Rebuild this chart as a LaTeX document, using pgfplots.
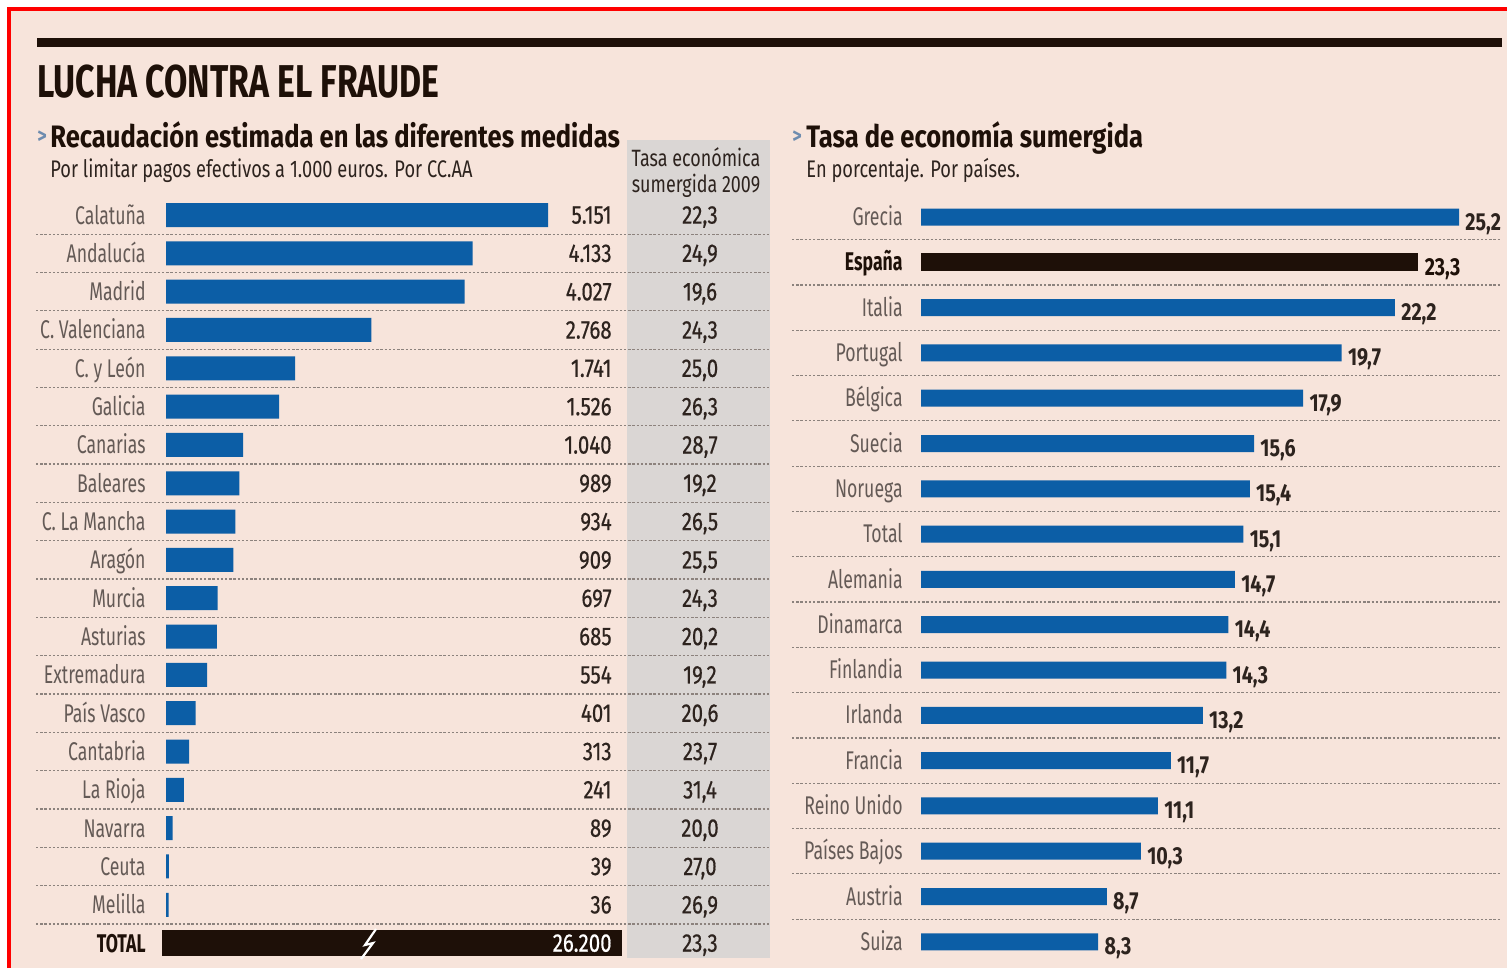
\documentclass[border=0pt]{standalone}
\usepackage{pgfplots}
\pgfplotsset{compat=1.18}
\usepackage{pgfplotstable}
\usepackage{fontspec}
\setmainfont{Fira Sans}[FakeStretch=0.70]
\newfontfamily\titleface{Fira Sans}[FakeStretch=0.735]
\newfontfamily\subface{Fira Sans}[FakeStretch=0.825]
\newfontfamily\smallface{Fira Sans}[FakeStretch=0.76]
\newfontfamily\labface{Fira Sans}[FakeStretch=0.69]
\newfontfamily\valface{Fira Sans}[FakeStretch=0.80, FakeBold=0.5]
\newfontfamily\rvalface{Fira Sans}[FakeStretch=0.80]
\definecolor{bg}{RGB}{247,228,219}
\definecolor{colgrey}{RGB}{218,214,212}
\definecolor{barblue}{RGB}{12,94,166}
\definecolor{ink}{RGB}{30,16,8}
\definecolor{lab}{RGB}{100,90,86}
\definecolor{val}{RGB}{45,35,30}
\definecolor{dots}{RGB}{140,130,125}
\definecolor{arrow}{RGB}{110,140,175}
\newcommand\labfont{\labface\fontsize{12.8}{14}\selectfont}
\newcommand\valfont{\valface\fontsize{12.8}{14}\selectfont}
\newcommand\rvalfont{\rvalface\bfseries\fontsize{12.3}{14}\selectfont}

\pgfplotstableread{
idx val lab
0 5151 5.151
1 4133 4.133
2 4027 4.027
3 2768 2.768
4 1741 1.741
5 1526 1.526
6 1040 1.040
7 989 989
8 934 934
9 909 909
10 697 697
11 685 685
12 554 554
13 401 401
14 313 313
15 241 241
16 89 89
17 39 39
18 36 36
}\lefttab

\pgfplotstableread{
idx tasa
0 22,3
1 24,9
2 19,6
3 24,3
4 25,0
5 26,3
6 28,7
7 19,2
8 26,5
9 25,5
10 24,3
11 20,2
12 19,2
13 20,6
14 23,7
15 31,4
16 20,0
17 27,0
18 26,9
19 23,3
}\tasatab

\pgfplotstableread{
idx val lab
19 26200 26.200
}\totaltab

\pgfplotstableread{
idx val lab
0 25.2 25,2
2 22.2 22,2
3 19.7 19,7
4 17.9 17,9
5 15.6 15,6
6 15.4 15,4
7 15.1 15,1
8 14.7 14,7
9 14.4 14,4
10 14.3 14,3
11 13.2 13,2
12 11.7 11,7
13 11.1 11,1
14 10.3 10,3
15 8.7 8,7
16 8.3 8,3
}\righttab

\pgfplotstableread{
idx val lab
1 23.3 23,3
}\spaintab

\begin{document}
\begin{tikzpicture}
\path[use as bounding box] (0,0) rectangle (753.5pt,-484pt);
\begin{scope}[x=0.5pt,y=-0.5pt]
\fill[white] (0,0) rectangle (1507,968);
\fill[bg] (9,9) rectangle (1507,968);
\draw[red, line width=2pt] (9,968) -- (9,9) -- (1507,9);
\fill[ink] (37,38) rectangle (1502,47);
\fill[colgrey] (627,140) rectangle (770,958);
\foreach \i in {0,...,18} {
  \draw[dots, line width=0.6pt, dash pattern=on 1.2pt off 0.9pt] (36,{215+38.32*\i+19.16}) -- (770,{215+38.32*\i+19.16});
}
\foreach \i in {0,...,15} {
  \draw[dots, line width=0.6pt, dash pattern=on 1.2pt off 0.9pt] (792,{217+45.3*\i+22.65}) -- (1500,{217+45.3*\i+22.65});
}
\node[anchor=base west, inner sep=0pt, text=ink, font=\titleface\bfseries\fontsize{23}{26}\selectfont] at (37,98) {LUCHA CONTRA EL FRAUDE};
\node[anchor=base west, inner sep=0pt, text=arrow, font=\subface\bfseries\fontsize{11}{13}\selectfont] at (37,144) {>};
\node[anchor=base west, inner sep=0pt, text=ink, font=\subface\bfseries\fontsize{15.5}{18}\selectfont] at (50,148) {Recaudación estimada en las diferentes medidas};
\node[anchor=base west, inner sep=0pt, text=val, font=\smallface\fontsize{12}{14}\selectfont] at (50,177) {Por limitar pagos efectivos a 1.000 euros. Por CC.AA};
\node[anchor=base west, inner sep=0pt, text=arrow, font=\subface\bfseries\fontsize{11}{13}\selectfont] at (792,144) {>};
\node[anchor=base west, inner sep=0pt, text=ink, font=\subface\bfseries\fontsize{15.5}{18}\selectfont] at (806,148) {Tasa de economía sumergida};
\node[anchor=base west, inner sep=0pt, text=val, font=\smallface\fontsize{12}{14}\selectfont] at (806,177) {En porcentaje. Por países.};
\node[anchor=base, inner sep=0pt, text=val, font=\smallface\fontsize{11.8}{13}\selectfont] at (696,167) {Tasa económica};
\node[anchor=base, inner sep=0pt, text=val, font=\smallface\fontsize{11.8}{13}\selectfont] at (696,192) {sumergida 2009};
\end{scope}

% left panel: bars per region
\begin{axis}[
  at={(83pt,-97.92pt)}, anchor=north west,
  scale only axis, width=302pt, height=383.2pt,
  xmin=0, xmax=8144, ymin=-0.5, ymax=19.5, y dir=reverse,
  axis line style={draw=none}, major tick length=0pt,
  xtick=\empty, ytick={0,...,19},
  yticklabels={Calatuña, Andalucía, Madrid, C. Valenciana, C. y León, Galicia, Canarias, Baleares, C. La Mancha, Aragón, Murcia, Asturias, Extremadura, País Vasco, Cantabria, La Rioja, Navarra, Ceuta, Melilla, {\bfseries\color{ink}TOTAL}},
  yticklabel style={anchor=base east, inner sep=0pt, xshift=-10pt, yshift=-4.5pt, font=\labfont, text=lab},
  clip=false,
]
\addplot[xbar, bar width=12pt, bar shift=0pt, fill=barblue, draw=none] table[x=val, y=idx] {\lefttab};
\addplot[draw=none, mark=none, nodes near coords, point meta=explicit symbolic,
  nodes near coords style={anchor=base east, inner sep=0pt, yshift=-4.3pt, font=\valfont, text=val}]
  table[x expr=6014, y=idx, meta=lab] {\lefttab};
\addplot[draw=none, mark=none, nodes near coords, point meta=explicit symbolic,
  nodes near coords style={anchor=base, inner sep=0pt, yshift=-4.3pt, font=\valfont, text=val}]
  table[x expr=7200, y=idx, meta=tasa] {\tasatab};
\end{axis}

% left panel: total bar (broken scale)
\begin{axis}[
  at={(81pt,-97.92pt)}, anchor=north west,
  scale only axis, width=230pt, height=383.2pt,
  xmin=0, xmax=26200, ymin=-0.5, ymax=19.5, y dir=reverse,
  hide axis, clip=false,
]
\addplot[xbar, bar width=13pt, bar shift=0pt, fill=ink, draw=none,
  nodes near coords, point meta=explicit symbolic,
  nodes near coords style={anchor=base east, inner sep=0pt, xshift=-5pt, yshift=-4.3pt, font=\valfont, text=white}]
  table[x=val, y=idx, meta=lab] {\totaltab};
\end{axis}
\begin{scope}[x=0.5pt,y=-0.5pt]
\draw[white, line width=1.1pt, line join=miter] (376,929) -- (365,945) -- (373,943) -- (361,959);
\end{scope}

% right panel
\begin{axis}[
  at={(460.5pt,-97.175pt)}, anchor=north west,
  scale only axis, width=289.5pt, height=385.05pt,
  xmin=0, xmax=27.12, ymin=-0.5, ymax=16.5, y dir=reverse,
  axis line style={draw=none}, major tick length=0pt,
  xtick=\empty, ytick={0,...,16},
  yticklabels={Grecia, {\bfseries\color{ink}España}, Italia, Portugal, Bélgica, Suecia, Noruega, Total, Alemania, Dinamarca, Finlandia, Irlanda, Francia, Reino Unido, Países Bajos, Austria, Suiza},
  yticklabel style={anchor=base east, inner sep=0pt, xshift=-9pt, yshift=-4.3pt, font=\labfont, text=lab},
  clip=false,
]
\addplot[xbar, bar width=8.5pt, bar shift=0pt, fill=barblue, draw=none,
  nodes near coords, point meta=explicit symbolic,
  nodes near coords style={anchor=base west, inner sep=0pt, xshift=3pt, yshift=-6.5pt, font=\rvalfont, text=val}]
  table[x=val, y=idx, meta=lab] {\righttab};
\addplot[xbar, bar width=9pt, bar shift=0pt, fill=ink, draw=none,
  nodes near coords, point meta=explicit symbolic,
  nodes near coords style={anchor=base west, inner sep=0pt, xshift=3pt, yshift=-6.5pt, font=\rvalfont, text=ink}]
  table[x=val, y=idx, meta=lab] {\spaintab};
\end{axis}
\end{tikzpicture}
\end{document}
